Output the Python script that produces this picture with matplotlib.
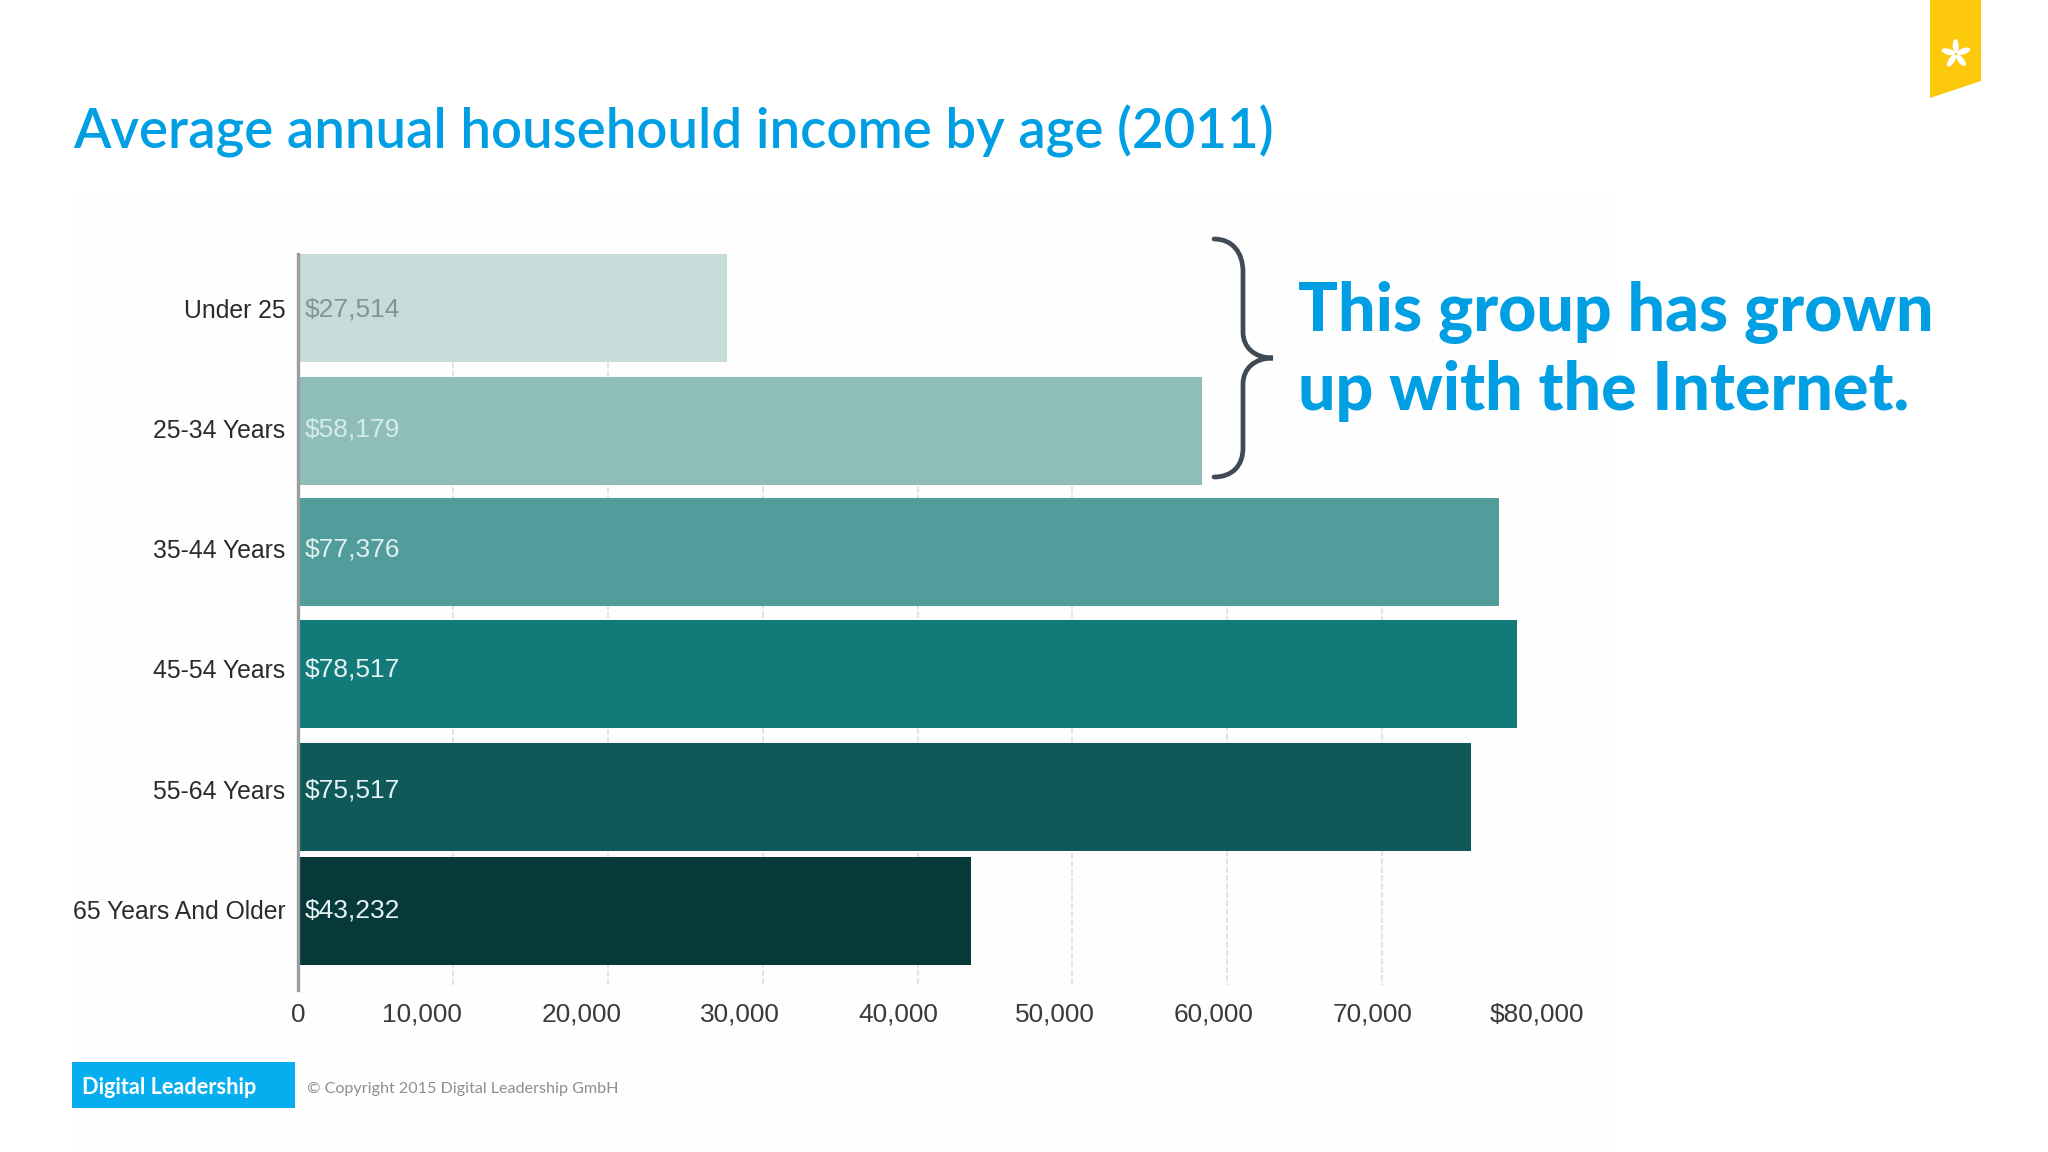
import numpy as np
import matplotlib
matplotlib.use('Agg')
import matplotlib.pyplot as plt
from matplotlib.path import Path
from matplotlib.patches import PathPatch, Polygon, Rectangle, Ellipse
from matplotlib.transforms import ScaledTranslation

ages = ['Under 25', '25-34 Years', '35-44 Years', '45-54 Years', '55-64 Years', '65 Years And Older']
income = [27514, 58179, 77376, 78517, 75517, 43232]
value_labels = ['$27,514', '$58,179', '$77,376', '$78,517', '$75,517', '$43,232']
ticks = [0, 10000, 20000, 30000, 40000, 50000, 60000, 70000, 80000]
tick_labels = ['0', '10,000', '20,000', '30,000', '40,000', '50,000', '60,000', '70,000', '$80,000']

bar_colors = ['#c6dcd9', '#8fbdb9', '#539c9c', '#137a7a', '#0f5a58', '#07393a']
value_colors = ['#7f9692', '#d4ecea', '#dff0ee', '#e6f3f2', '#e6f3f2', '#e6f3f2']
# the tick labels in the picture drift left of their gridlines (px)
label_shift = [0, -31, -26, -23, -19, -18, -14, -10, 0]
# bars sit a little lower than their row labels in the picture (px)
bar_drift = [0, 2.2, 3.2, 5.3, 7.5, 2]

BLUE = '#009fe3'
W, H = 2048, 1152

fig = plt.figure(figsize=(W / 100, H / 100), dpi=100, facecolor='white')

# overlay in pixel coords for slide furniture
bg = fig.add_axes([0, 0, 1, 1], zorder=0)
bg.set_xlim(0, W)
bg.set_ylim(H, 0)
bg.axis('off')
bg.add_patch(Rectangle((72, 195), 1540, 957, fc='#fefefe', ec='none'))

# chart: 0 at x=298, 80000 at x=1537, rows 120 px apart
left, right = 298, 1537
top, bottom = 254, 990
ax = fig.add_axes([left / W, 1 - bottom / H, (right - left) / W, (bottom - top) / H],
                  zorder=1, facecolor='none')
row = 120.3
y = np.arange(len(ages))
# bar ends run about 200 past the value in the picture
ax.barh(y + np.array(bar_drift) / row, np.array(income) + 200, height=108 / row, color=bar_colors, zorder=3)
ax.set_xlim(0, 80000)
ax.set_ylim((bottom - 308) / row, (top - 308) / row)
ax.set_yticks(y)
ax.set_yticklabels(ages, family='Liberation Sans', fontsize=17.8, color='#2b2b2b')
ax.set_xticks(ticks)
ax.set_xticklabels(tick_labels, family='Liberation Sans', fontsize=18.9, color='#3a3a3a')
ax.tick_params(axis='both', length=0)
ax.tick_params(axis='y', pad=9)
ax.tick_params(axis='x', pad=9)
for lab, dx in zip(ax.get_xticklabels(), label_shift):
    lab.set_transform(lab.get_transform() + ScaledTranslation(dx / 100, 0, fig.dpi_scale_trans))
# gridlines only show in the gaps and below the bars
for t in ticks[1:-1]:
    if t <= 20000:
        y0 = 0.45
    elif t <= 50000:
        y0 = 1.0
    else:
        y0 = 1.6
    ax.vlines(t, y0, (985 - 308) / row, color='#e1e4e7', lw=1.5, ls=(0, (3, 1)), zorder=1)
for s in ['top', 'right', 'bottom']:
    ax.spines[s].set_visible(False)
ax.spines['left'].set_color('#9a9d9d')
ax.spines['left'].set_linewidth(2.4)
ax.spines['left'].set_zorder(4)
for i, txt in enumerate(value_labels):
    ax.text(450, i + 1 / row, txt, family='Liberation Sans', fontsize=19, color=value_colors[i],
            va='center', ha='left', zorder=5)

fg = fig.add_axes([0, 0, 1, 1], zorder=2, facecolor='none')
fg.set_xlim(0, W)
fg.set_ylim(H, 0)
fg.axis('off')

fg.text(73, 131, 'Average annual househould income by age (2011)', family='Lato', fontsize=39.3,
        weight='semibold', color=BLUE, va='center', ha='left')
fg.text(1298, 313, 'This group has grown', family='Lato', fontsize=47.7, weight='black',
        color=BLUE, va='center', ha='left')
fg.text(1298, 391, 'up with the Internet.', family='Lato', fontsize=47.7, weight='black',
        color=BLUE, va='center', ha='left')

# brace
verts = [(1214, 239), (1232, 239), (1243, 252), (1243, 272),
         (1243, 332), (1243, 347), (1254, 358), (1273, 358),
         (1254, 358), (1243, 369), (1243, 384),
         (1243, 448), (1243, 466), (1232, 477), (1214, 477)]
codes = [Path.MOVETO, Path.CURVE4, Path.CURVE4, Path.CURVE4,
         Path.LINETO, Path.CURVE4, Path.CURVE4, Path.CURVE4,
         Path.CURVE4, Path.CURVE4, Path.CURVE4,
         Path.LINETO, Path.CURVE4, Path.CURVE4, Path.CURVE4]
fg.add_patch(PathPatch(Path(verts, codes), fc='none', ec='#3f4a54', lw=3.4, capstyle='round'))

# ribbon + flower
fg.add_patch(Polygon([(1930, 0), (1981, 0), (1981, 81), (1930, 98)], fc='#fdc90c', ec='none'))
for a in [20, 92, 164, 236, 308]:
    r = np.deg2rad(a)
    fg.add_patch(Ellipse((1956 + 8 * np.cos(r), 54 - 8 * np.sin(r)), 14, 6,
                         angle=-a, fc='white', ec='none'))

# footer
fg.add_patch(Rectangle((72, 1062), 223, 46, fc='#06aeef', ec='none'))
fg.text(82, 1087, 'Digital Leadership', family='Lato', fontsize=15.7, weight='bold',
        color='white', va='center', ha='left')
fg.text(307, 1089, '© Copyright 2015 Digital Leadership GmbH', family='Lato', fontsize=11.6,
        color='#8a8f94', va='center', ha='left')

fig.savefig('out.png', dpi=100)
